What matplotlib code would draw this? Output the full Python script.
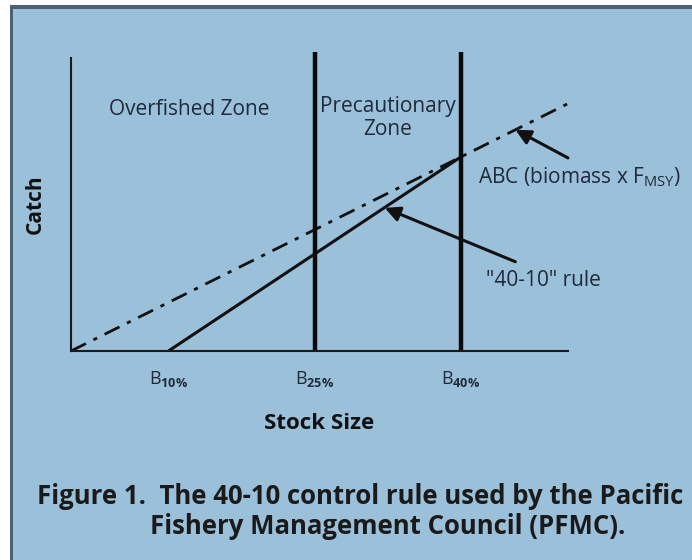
import matplotlib
matplotlib.use("Agg")
import matplotlib.pyplot as plt
from matplotlib.patches import Rectangle

# schematic control rule values (stock size in %, catch in same units)
abc_x = [0, 51]
abc_y = [0, 51]
rule_x = [10, 40]
rule_y = [0, 40]
zone_edges = [25, 40]
tick_pos = [10, 25, 40]
tick_labels = [r"B$_{\mathbf{10\%}}$", r"B$_{\mathbf{25\%}}$", r"B$_{\mathbf{40\%}}$"]

BG = "#9bc0d9"
BORDER = "#4d6074"
INK = "#1f2a3a"

plt.rcParams["font.family"] = ["Open Sans", "DejaVu Sans"]
plt.rcParams["mathtext.fontset"] = "custom"
plt.rcParams["mathtext.rm"] = "Open Sans"
plt.rcParams["mathtext.bf"] = "Open Sans:bold"

W, H = 692, 560
fig = plt.figure(figsize=(W / 100, H / 100), dpi=100, facecolor="white")

# frame: dark border on top/left, light blue panel
fig.patches.append(Rectangle((10 / W, 0), 1, 1 - 5 / H, transform=fig.transFigure,
                             facecolor=BORDER, edgecolor="none", zorder=-2))
fig.patches.append(Rectangle((13 / W, 0), 1, 1 - 9 / H, transform=fig.transFigure,
                             facecolor=BG, edgecolor="none", zorder=-1))

ax = fig.add_axes([71 / W, (H - 351) / H, (568 - 71) / W, (351 - 58) / H])
ax.set_facecolor("none")
ax.set_xlim(0, 51)
ax.set_ylim(0, 60.4)

for s in ["top", "right"]:
    ax.spines[s].set_visible(False)
for s in ["left", "bottom"]:
    ax.spines[s].set_linewidth(1.5)
    ax.spines[s].set_color("#1a1a1a")

ax.plot(abc_x, abc_y, color="#111111", lw=2, linestyle=(0, (6, 3, 1.5, 3)), clip_on=False)
ax.plot(rule_x, rule_y, color="#111111", lw=2.2, solid_capstyle="butt")
for xe in zone_edges:
    ax.plot([xe, xe], [0, 61.7], color="#0a0a0a", lw=3.2, clip_on=False, solid_capstyle="butt")

ax.set_xticks(tick_pos)
ax.set_xticklabels(tick_labels, fontsize=13, color=INK)
ax.tick_params(axis="x", length=0, pad=13)
ax.set_yticks([])

ax.set_xlabel("Stock Size", fontsize=16, fontweight="bold", color="#111111", labelpad=17)
ax.set_ylabel("Catch", fontsize=15, fontweight="bold", color="#111111", labelpad=18)

ax.text(12.1, 49.7, "Overfished Zone", ha="center", va="center", fontsize=15, color=INK)
ax.text(32.5, 48.0, "Precautionary\nZone", ha="center", va="center", fontsize=15,
        color=INK, linespacing=1.1)
ax.text(41.8, 35.9, r"ABC (biomass x F$_{\mathrm{MSY}}$)", ha="left", va="center",
        fontsize=15, color=INK)
ax.text(42.6, 14.6, '"40-10" rule', ha="left", va="center", fontsize=15, color=INK)

arrow = dict(arrowstyle="-|>,head_length=0.9,head_width=0.45", color="#111111", lw=2.2,
             shrinkA=0, shrinkB=0)
ax.annotate("", xy=(45.6, 45.6), xytext=(51, 39.8), arrowprops=arrow, annotation_clip=False)
ax.annotate("", xy=(32.2, 29.5), xytext=(45.6, 18.4), arrowprops=arrow, annotation_clip=False)

fig.text(37 / W, 1 - 497 / H, "Figure 1.  The 40-10 control rule used by the Pacific",
         ha="left", va="center", fontsize=18.5, fontweight="bold", color="#1a1a1a")
fig.text(150 / W, 1 - 527 / H, "Fishery Management Council (PFMC).",
         ha="left", va="center", fontsize=18.5, fontweight="bold", color="#1a1a1a")

fig.savefig("out.png", dpi=100, facecolor=fig.get_facecolor())
